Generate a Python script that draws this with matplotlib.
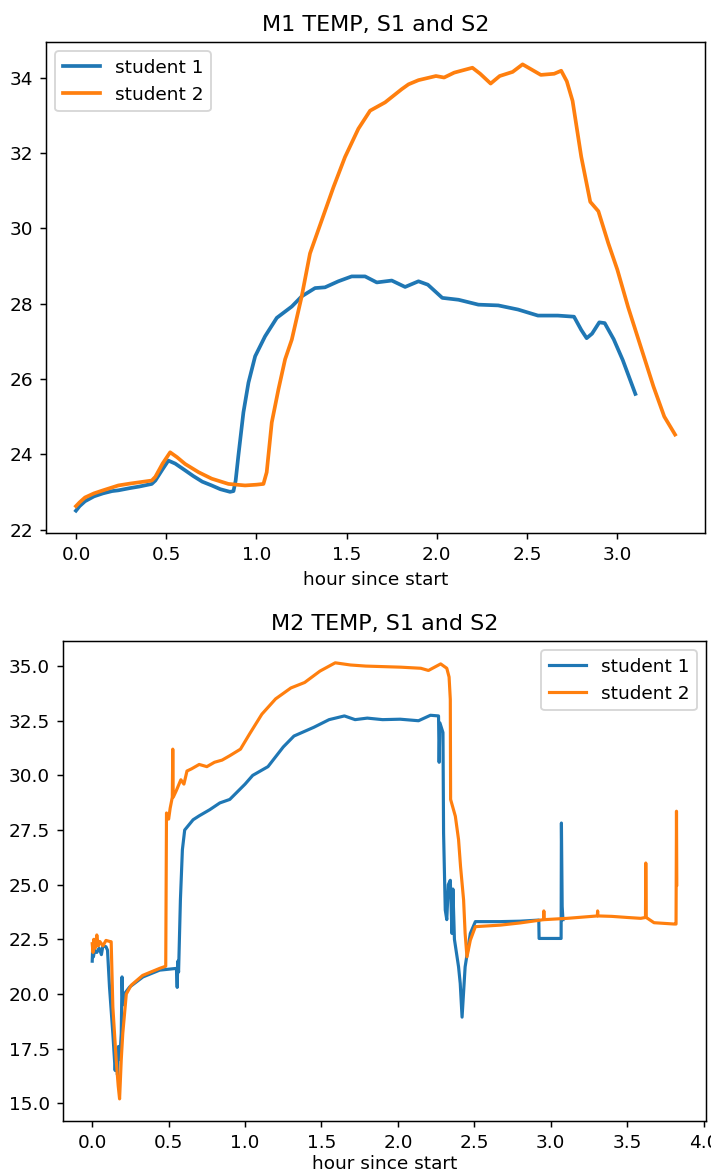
import matplotlib
matplotlib.use("Agg")
import matplotlib.pyplot as plt

# M1 temperature, student 1
m1_s1_hours = [0.00, 0.02, 0.05, 0.10, 0.15, 0.20, 0.235, 0.30, 0.35, 0.42, 0.44, 0.48,
               0.512, 0.55, 0.605, 0.65, 0.70, 0.752, 0.80, 0.854, 0.873, 0.885, 0.90,
               0.928, 0.956, 0.993, 1.048, 1.113, 1.196, 1.251, 1.325, 1.38, 1.454,
               1.528, 1.602, 1.667, 1.75, 1.824, 1.898, 1.95, 2.03, 2.12, 2.23, 2.34,
               2.45, 2.56, 2.67, 2.76, 2.80, 2.83, 2.86, 2.90, 2.93, 2.98, 3.03, 3.10]
m1_s1_temp = [22.50, 22.62, 22.75, 22.88, 22.96, 23.02, 23.04, 23.10, 23.14, 23.21, 23.30, 23.60,
              23.83, 23.75, 23.57, 23.42, 23.27, 23.17, 23.07, 23.00, 23.02, 23.30, 23.96,
              25.11, 25.90, 26.60, 27.13, 27.62, 27.92, 28.19, 28.41, 28.43, 28.59,
              28.72, 28.72, 28.56, 28.61, 28.44, 28.59, 28.50, 28.15, 28.10, 27.97, 27.95,
              27.84, 27.68, 27.68, 27.65, 27.30, 27.08, 27.20, 27.50, 27.48, 27.05, 26.50, 25.60]

# M1 temperature, student 2
m1_s2_hours = [0.00, 0.02, 0.05, 0.10, 0.15, 0.235, 0.30, 0.42, 0.44, 0.48, 0.522, 0.56,
               0.605, 0.68, 0.752, 0.845, 0.937, 1.00, 1.039, 1.057, 1.085, 1.122, 1.159,
               1.196, 1.251, 1.297, 1.362, 1.427, 1.491, 1.565, 1.63, 1.713, 1.805, 1.843,
               1.898, 1.995, 2.04, 2.096, 2.197, 2.24, 2.298, 2.348, 2.42, 2.475, 2.576,
               2.65, 2.689, 2.72, 2.752, 2.80, 2.85, 2.895, 2.95, 3.00, 3.06, 3.12, 3.20,
               3.26, 3.32]
m1_s2_temp = [22.62, 22.72, 22.85, 22.96, 23.04, 23.17, 23.22, 23.30, 23.40, 23.75, 24.05, 23.92,
              23.74, 23.52, 23.35, 23.21, 23.17, 23.19, 23.21, 23.52, 24.84, 25.72, 26.52,
              27.04, 28.19, 29.33, 30.21, 31.09, 31.89, 32.64, 33.12, 33.34, 33.69, 33.82,
              33.93, 34.04, 34.00, 34.13, 34.26, 34.10, 33.84, 34.04, 34.15, 34.35, 34.07,
              34.10, 34.18, 33.90, 33.38, 31.90, 30.70, 30.45, 29.60, 28.90, 27.90, 27.00, 25.80,
              25.00, 24.52]

# M2 temperature, student 1
m2_s1_hours = [0.000, 0.003, 0.008, 0.015, 0.03, 0.045, 0.06, 0.07, 0.09, 0.10, 0.113, 0.135,
               0.150, 0.158, 0.165, 0.172, 0.180, 0.190, 0.195, 0.200, 0.21, 0.245, 0.332,
               0.441, 0.551, 0.556, 0.560, 0.565, 0.577, 0.590, 0.605, 0.66, 0.70, 0.769,
               0.835, 0.90, 1.00, 1.05, 1.15, 1.25, 1.32, 1.45, 1.55, 1.65, 1.72, 1.80,
               1.90, 2.015, 2.135, 2.213, 2.266, 2.270, 2.275, 2.295, 2.299, 2.310, 2.320,
               2.330, 2.343, 2.354, 2.360, 2.370, 2.397, 2.408, 2.420, 2.440, 2.474, 2.507,
               2.67, 2.80, 2.922, 2.924, 3.068, 3.070, 3.075, 3.080]
m2_s1_temp = [21.50, 22.10, 21.70, 22.00, 21.90, 22.10, 21.80, 22.20, 22.16, 22.00, 20.32, 18.18,
              16.50, 17.40, 16.30, 17.60, 17.00, 18.20, 20.78, 19.50, 20.00, 20.32, 20.78,
              21.09, 21.17, 20.30, 21.50, 21.00, 24.30, 26.60, 27.50, 27.97, 28.15, 28.43,
              28.74, 28.90, 29.60, 30.00, 30.40, 31.30, 31.80, 32.20, 32.55, 32.72, 32.55, 32.62,
              32.55, 32.57, 32.50, 32.75, 32.72, 30.60, 32.40, 31.96, 27.36, 23.84, 23.40,
              25.00, 25.20, 22.77, 24.80, 22.50, 21.24, 20.48, 18.94, 21.24, 22.77, 23.31,
              23.31, 23.33, 23.38, 22.54, 22.54, 27.82, 24.00, 23.40]

# M2 temperature, student 2
m2_s2_hours = [0.000, 0.005, 0.01, 0.02, 0.03, 0.04, 0.05, 0.07, 0.09, 0.115, 0.124, 0.135,
               0.157, 0.170, 0.179, 0.190, 0.200, 0.223, 0.255, 0.33, 0.441, 0.481, 0.486,
               0.50, 0.51, 0.524, 0.527, 0.530, 0.55, 0.58, 0.60, 0.62, 0.65, 0.70, 0.75,
               0.80, 0.85, 0.90, 0.97, 1.03, 1.11, 1.20, 1.30, 1.39, 1.49, 1.59, 1.69, 1.79,
               2.02, 2.15, 2.20, 2.28, 2.32, 2.335, 2.343, 2.345, 2.376, 2.397, 2.41, 2.43,
               2.44, 2.452, 2.474, 2.507, 2.671, 2.80, 2.953, 2.955, 2.957, 3.108, 3.305,
               3.307, 3.309, 3.40, 3.50, 3.589, 3.620, 3.622, 3.625, 3.676, 3.807, 3.820,
               3.823, 3.825]
m2_s2_temp = [22.30, 21.90, 22.50, 22.10, 22.70, 22.20, 22.40, 22.20, 22.45, 22.40, 22.39, 19.40,
              16.96, 15.80, 15.20, 17.00, 18.20, 20.00, 20.40, 20.85, 21.17, 21.27, 28.28,
              28.00, 28.50, 29.00, 31.20, 29.00, 29.30, 29.80, 29.60, 30.20, 30.30, 30.50, 30.40,
              30.60, 30.70, 30.90, 31.20, 31.90, 32.80, 33.50, 34.00, 34.25, 34.77, 35.15, 35.05, 35.00,
              34.95, 34.90, 34.80, 35.10, 34.90, 34.50, 33.48, 28.90, 28.13, 27.06, 25.83, 24.30,
              22.77, 21.70, 22.46, 23.08, 23.15, 23.25, 23.40, 23.80, 23.40, 23.46, 23.57,
              23.80, 23.57, 23.55, 23.50, 23.46, 23.50, 25.99, 23.50, 23.26, 23.20, 23.20,
              28.36, 25.00]

series_labels = ["student 1", "student 2"]
titles = ["M1 TEMP, S1 and S2", "M2 TEMP, S1 and S2"]
x_label = "hour since start"

DPI = 133.33
fig = plt.figure(figsize=(711 / DPI, 1174 / DPI), dpi=DPI)
ax1 = fig.add_axes([0.0647, 0.546, 0.9269, 0.4182])
ax2 = fig.add_axes([0.0886, 0.0454, 0.9044, 0.4086])

ax1.plot(m1_s1_hours, m1_s1_temp, color="#1f77b4", lw=2.0, label=series_labels[0])
ax1.plot(m1_s2_hours, m1_s2_temp, color="#ff7f0e", lw=2.0, label=series_labels[1])
ax1.set_title(titles[0])
ax1.set_xlabel(x_label)
ax1.legend(loc="upper left")

ax2.plot(m2_s1_hours, m2_s1_temp, color="#1f77b4", lw=1.7, label=series_labels[0])
ax2.plot(m2_s2_hours, m2_s2_temp, color="#ff7f0e", lw=1.7, label=series_labels[1])
ax2.set_title(titles[1])
ax2.set_xlabel(x_label, labelpad=2)
ax2.legend(loc="upper right")

fig.savefig("out.png", dpi=DPI)
